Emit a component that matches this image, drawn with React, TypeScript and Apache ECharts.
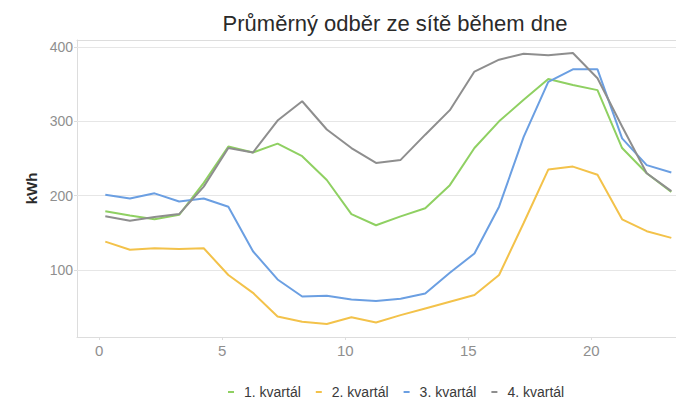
import React, { useEffect, useRef } from "react";
import * as echarts from "echarts";

const hours = [0, 1, 2, 3, 4, 5, 6, 7, 8, 9, 10, 11, 12, 13, 14, 15, 16, 17, 18, 19, 20, 21, 22, 23];
const q1 = [179, 173, 168, 174, 217, 266, 258, 270, 253, 221, 175, 160, 172, 183, 214, 264, 300, 329, 357, 349, 342, 264, 230, 205];
const q2 = [138, 127, 129, 128, 129, 93, 69, 37, 30, 27, 36, 29, 39, 48, 57, 66, 93, 163, 235, 239, 228, 168, 152, 143];
const q3 = [201, 196, 203, 192, 196, 185, 125, 87, 64, 65, 60, 58, 61, 68, 96, 122, 185, 279, 353, 370, 370, 277, 241, 231];
const q4 = [172, 166, 171, 175, 212, 264, 258, 301, 327, 289, 264, 244, 248, 282, 315, 367, 383, 391, 389, 392, 358, 293, 230, 206];
const seriesNames = ["1. kvartál", "2. kvartál", "3. kvartál", "4. kvartál"];
const colors = ["#8fd062", "#f3c24a", "#6b9fe2", "#8e8e8e"];
const xTicks = [0, 5, 10, 15, 20];
const yTicks = [100, 200, 300, 400];

const xOffset = 0.25;
const FONT = "Liberation Sans, Arial, sans-serif";
const BORDER = "#dddddd";

export default function App() {
  const ref = useRef<HTMLDivElement>(null);
  useEffect(() => {
    if (!ref.current) return;
    const chart = echarts.init(ref.current, undefined, { renderer: "svg" });
    const all = [q1, q2, q3, q4];
    chart.setOption({
      animation: false,
      backgroundColor: "#ffffff",
      textStyle: { fontFamily: FONT },
      title: {
        text: "Průměrný odběr ze sítě během dne",
        left: 390,
        textAlign: "center",
        top: 7,
        textStyle: { fontSize: 22, fontWeight: "normal", color: "#2a2a2a", fontFamily: FONT },
      },
      legend: {
        left: 223,
        top: 380,
        icon: "rect",
        itemWidth: 6,
        itemHeight: 2,
        itemGap: 15,
        textStyle: { fontSize: 14, color: "#3a3a3a", fontFamily: FONT, padding: [0, 0, 0, 5] },
        data: seriesNames,
      },
      grid: {
        left: 77,
        top: 40,
        right: 0,
        bottom: 64,
        show: false,
      },
      xAxis: [
        {
          type: "value",
          min: -0.9,
          max: 23.44,
          axisLine: { show: true, onZero: false, lineStyle: { color: BORDER } },
          axisTick: { show: true, customValues: xTicks, length: 3, lineStyle: { color: BORDER } },
          axisLabel: { customValues: xTicks, color: "#8f8f8f", fontSize: 15, margin: 6, fontFamily: FONT },
          splitLine: { show: false },
        },
        {
          type: "value",
          position: "top",
          min: -0.9,
          max: 23.44,
          axisLine: { show: true, onZero: false, lineStyle: { color: BORDER } },
          axisTick: { show: false },
          axisLabel: { show: false },
          splitLine: { show: false },
        },
      ],
      yAxis: {
        type: "value",
        min: 9.5,
        max: 409.5,
        name: "kWh",
        nameLocation: "middle",
        nameRotate: 90,
        nameGap: 37,
        nameTextStyle: { fontSize: 15, fontWeight: "bold", color: "#2a2a2a", fontFamily: FONT },
        axisLine: { show: true, onZero: false, lineStyle: { color: BORDER } },
        axisTick: { show: true, customValues: yTicks, length: 3, lineStyle: { color: BORDER } },
        axisLabel: { customValues: yTicks, color: "#8f8f8f", fontSize: 14, margin: 4, fontFamily: FONT },
        splitLine: { show: false },
      },
      series: all.map((vals, i) => ({
        name: seriesNames[i],
        type: "line",
        xAxisIndex: 0,
        data: hours.map((h, j) => [h + xOffset, vals[j]]),
        showSymbol: false,
        symbol: "none",
        lineStyle: { width: 2, color: colors[i] },
        itemStyle: { color: colors[i] },
        z: 3,
        markLine:
          i === 0
            ? {
                silent: true,
                symbol: "none",
                label: { show: false },
                lineStyle: { color: "#e6e6e6", width: 1, type: "solid" },
                data: yTicks.map((v) => ({ yAxis: v })),
                z: 1,
              }
            : undefined,
      })),
    });
    return () => chart.dispose();
  }, []);
  return <div ref={ref} style={{ width: 676, height: 401, position: "absolute", left: 0, top: 0 }} />;
}
